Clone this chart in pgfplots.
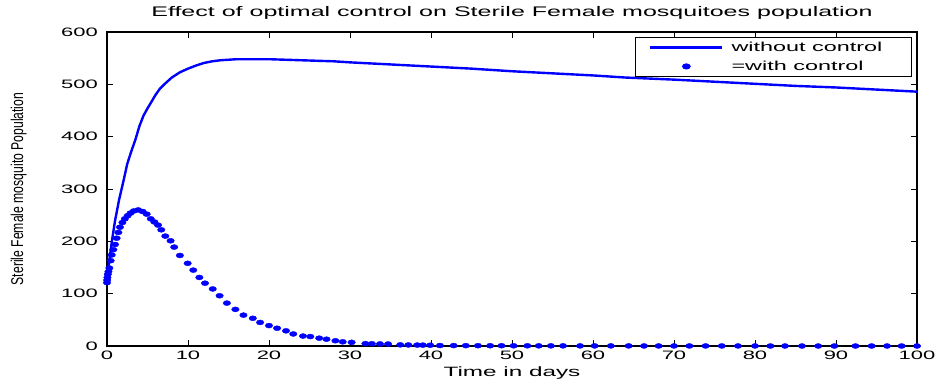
\documentclass[border=0pt]{standalone}
\usepackage{fontspec}
\setmainfont{Liberation Sans}
\newfontfamily\wide[FakeStretch=1.8]{Liberation Sans}
\usepackage{pgfplots}
\pgfplotsset{compat=1.18}
\newcommand{\mf}{\wide\fontsize{12.2}{14}\selectfont}
\newcommand{\lf}{\wide\fontsize{13.5}{15}\selectfont}
\newcommand{\tf}{\wide\fontsize{13.9}{16}\selectfont}
\pgfplotsset{
  lineleg/.style={legend image code/.code={\draw[##1] (0pt,0pt) -- (72pt,0pt);}},
  dotleg/.style={legend image code/.code={\draw[##1] plot coordinates {(36pt,0pt)};}},
}
\begin{document}
\begin{tikzpicture}
\begin{axis}[name=ax,
  width=810pt, height=314pt, scale only axis,
  xmin=0, xmax=100, ymin=0, ymax=600,
  xtick={0,10,...,100}, ytick={0,100,...,600},
  tick align=inside, major tick length=6pt,
  axis line style={line width=1.1pt},
  every tick/.style={black, line width=0.9pt},
  /pgf/number format/assume math mode=true,
  tick label style={font=\mf},
  xticklabel style={anchor=base, inner sep=0pt, yshift=-13pt},
  yticklabel style={anchor=east, inner sep=0pt, xshift=-9pt},
  title={Effect of optimal control on Sterile Female mosquitoes population},
  title style={font=\tf, at={(axis description cs:0.5,1)}, anchor=base, inner sep=0pt, yshift=10pt},
  xlabel={Time in days},
  xlabel style={font=\lf, at={(axis description cs:0.5,0)}, anchor=base, inner sep=0pt, yshift=-30pt},
  ylabel={\scalebox{1}[1.4]{Sterile Female mosquito Population}},
  ylabel style={font=\fontsize{12.2}{14}\selectfont, at={(axis description cs:-0.109,0.5)}, anchor=center, inner sep=0pt},
  legend style={at={(axis description cs:1,1)}, anchor=north east, xshift=-5pt, yshift=-5pt,
    font=\wide\fontsize{13}{15}\selectfont, draw=black, line width=1.1pt, inner xsep=14pt, inner ysep=2.5pt, row sep=4pt,
    /tikz/every odd column/.append style={column sep=6pt}},
  legend cell align=left,
]
\addplot[blue, line width=2.4pt, lineleg]
coordinates {
(0,130) (0.3,165) (0.6,200) (1,240) (1.5,280) (2,313) (2.5,348) (3,372) (3.5,394)
(4,420) (4.5,440) (5,454) (5.5,467) (6,480) (6.5,491) (7,499) (7.5,506) (8,513)
(9,523) (10,530) (11,536) (12,541) (13,544) (14,546) (15,547) (16,548) (18,548)
(20,548) (22,547) (24,546) (26,545) (28,544) (30,542) (35,538) (40,534) (45,530)
(50,525) (55,521) (60,517) (64,513) (70,509) (75,505) (80,501) (85,497) (90,494)
(95,490) (100,486)
};
\addlegendentry{without control\kern13pt}
\addplot[blue, only marks, mark=*, mark size=2.5pt, mark options={xscale=1.5}, dotleg]
coordinates {
(0,121) (0.02,126) (0.05,131) (0.1,137) (0.18,142) (0.29,149) (0.45,163) (0.58,174)
(0.78,184) (0.99,194) (1.19,206) (1.4,217) (1.6,227) (1.9,236) (2.2,243) (2.55,249)
(2.9,254) (3.3,258) (3.85,260) (4.4,257) (4.9,252) (5.4,243) (5.85,237) (6.3,231)
(6.7,222) (7.2,210) (7.85,201) (8.3,189) (9.0,173) (9.96,158) (10.65,145) (11.4,131)
(12.1,120) (13.05,109) (13.9,96) (14.8,82) (15.85,70) (16.85,59) (18,53) (18.9,45)
(20,39) (21,34) (22.1,29) (23,23) (24.2,19) (25.1,18) (26.2,15) (27.1,13) (28.2,10)
(29.1,8) (30.2,7) (31.9,4.5) (32.7,4.3) (33.7,4) (34.7,3.8) (36.2,2.2) (37.2,2)
(38.3,1.8) (39,1.7) (39.9,1.5) (41.1,0.9) (42.8,0.8) (44.3,0.7) (45.8,0.6) (47.3,0.5)
(48.7,0.5) (50.2,0.4) (51.9,0.4) (53.3,0.3) (54.8,0.3) (56.3,0.3) (58.4,0.2) (60.2,0.2)
(62.2,0.2) (64.4,0.2) (66.3,0.1) (68.1,0.1) (70,0.1) (71.9,0.1) (73.9,0.1) (75.9,0.1)
(77.9,0.1) (80,0.1) (81.9,0) (83.7,0) (85.8,0) (87.8,0) (89.8,0) (92.4,0) (94.4,0)
(96.3,0) (98.1,0) (100,0)
};
\addlegendentry{=with control}
\end{axis}
\path (ax.south west) ++(-107pt,-38pt) rectangle ++(938pt,384pt);
\end{tikzpicture}
\end{document}
